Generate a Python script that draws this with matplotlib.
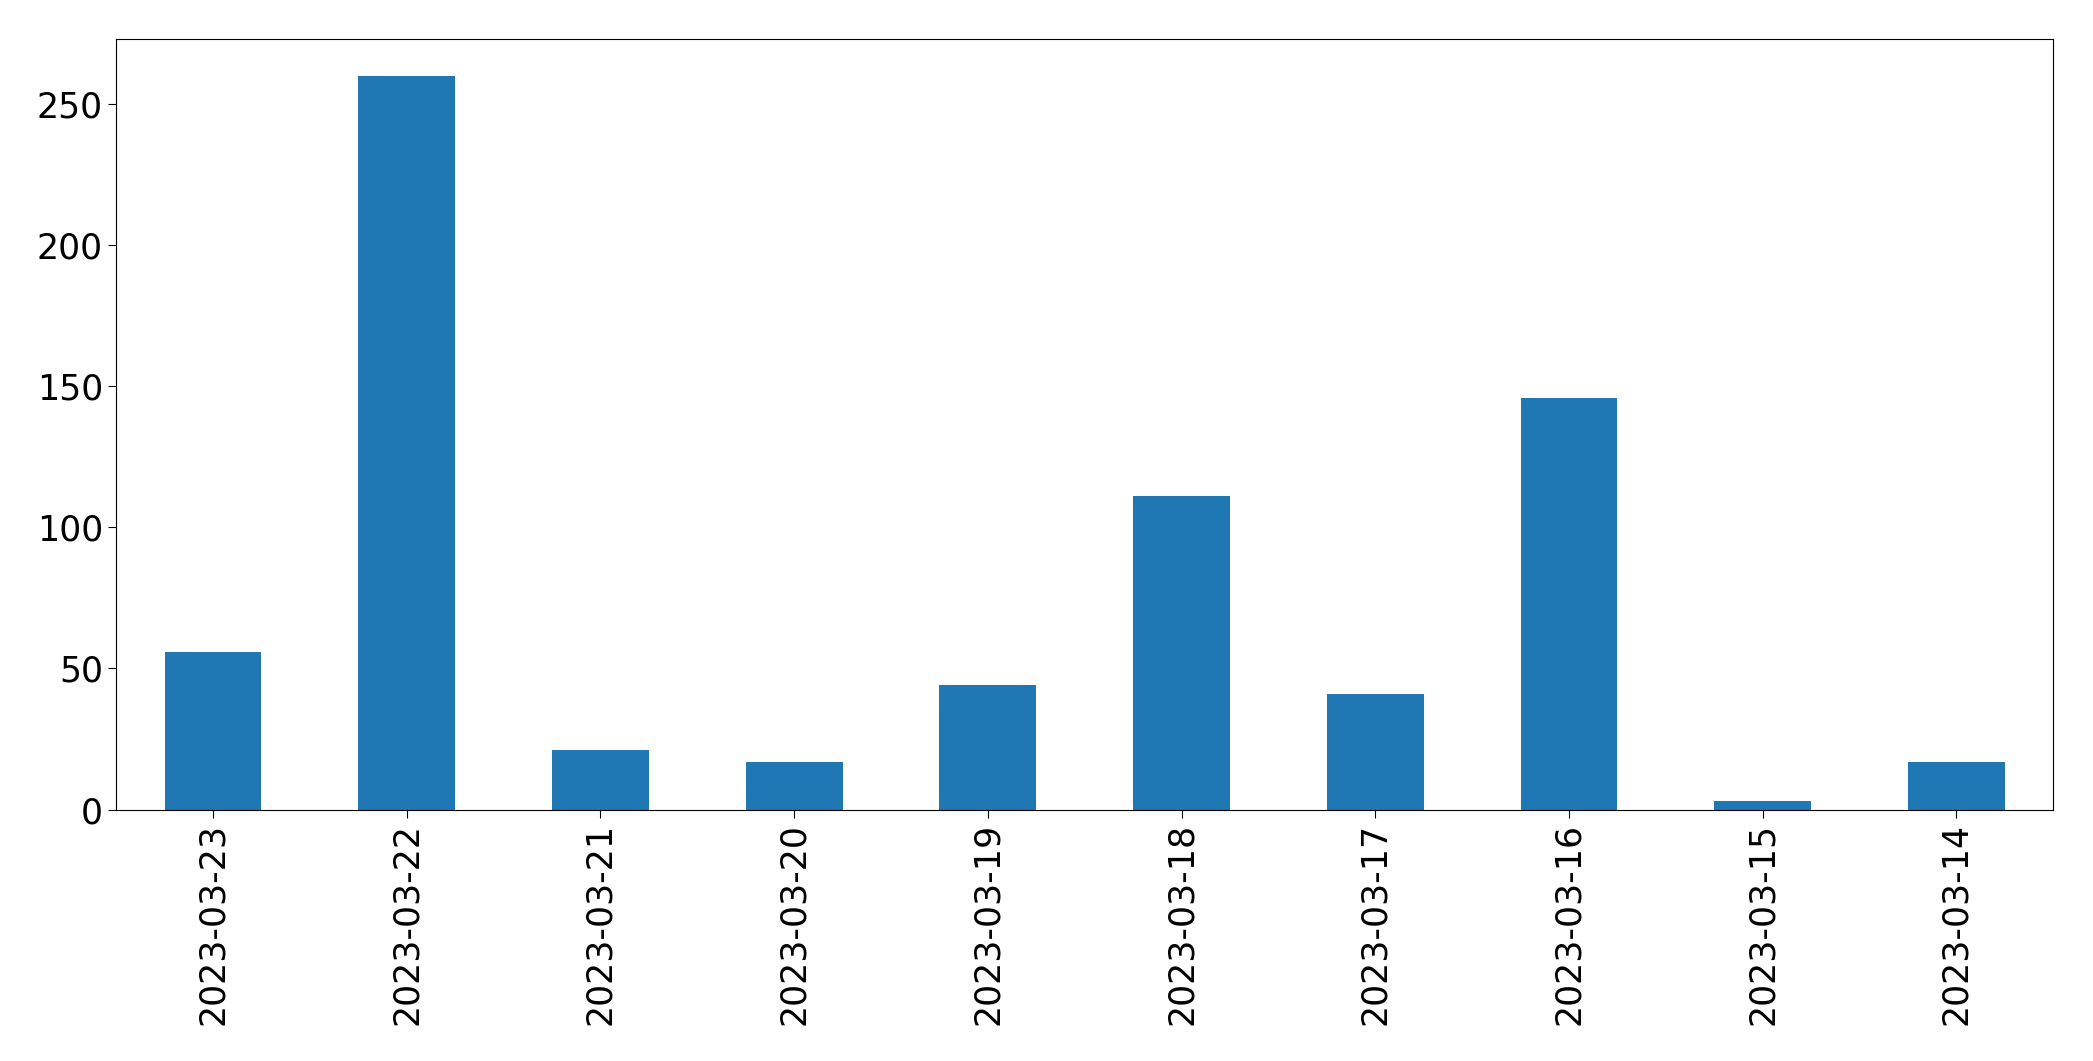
import matplotlib
matplotlib.use("Agg")
import matplotlib.pyplot as plt
import pandas as pd

# daily counts, newest first (as in the original)
dates = ["2023-03-23", "2023-03-22", "2023-03-21", "2023-03-20", "2023-03-19",
         "2023-03-18", "2023-03-17", "2023-03-16", "2023-03-15", "2023-03-14"]
counts = [56, 260, 21, 17, 44, 111, 41, 146, 3, 17]

s = pd.Series(counts, index=dates)

fig, ax = plt.subplots(figsize=(20.93, 10.61), dpi=100)
s.plot(kind="bar", ax=ax, color="#1f77b4", width=0.5)

ax.tick_params(axis="both", labelsize=25, length=6)
ax.set_yticks([0, 50, 100, 150, 200, 250])

fig.subplots_adjust(left=0.0555, right=0.981, top=0.963, bottom=0.237)
fig.savefig("out.png", dpi=100)
